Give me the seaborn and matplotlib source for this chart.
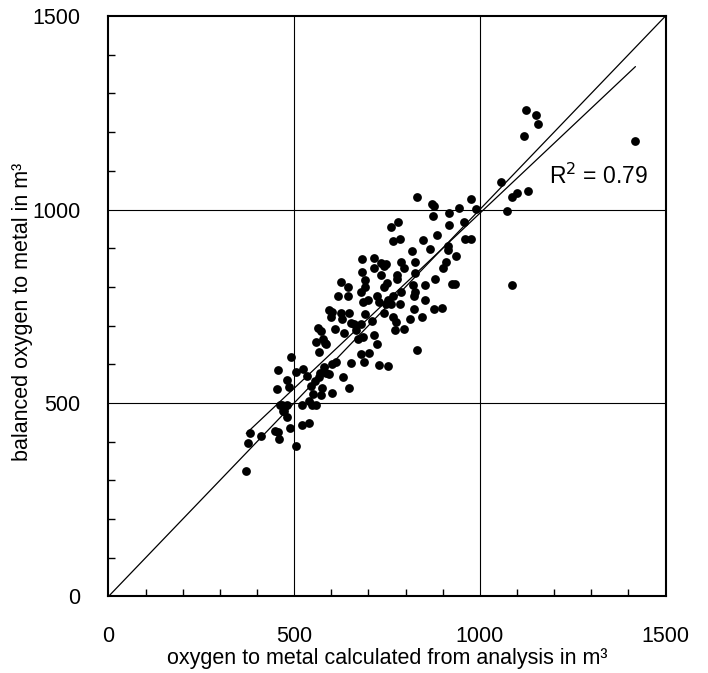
import numpy as np
import pandas as pd
import matplotlib
matplotlib.use("Agg")
import matplotlib.pyplot as plt
from matplotlib.ticker import MultipleLocator
import seaborn as sns

# oxygen to metal calculated from analysis (m³)
calc = [371, 375, 380, 412, 449, 457, 459, 489, 506, 521, 540, 453, 456, 491,
        467, 473, 463, 470, 480, 480, 486, 480, 506, 524, 521, 534, 541, 548,
        558, 546, 550, 555, 568, 576, 573, 570, 580, 586, 594, 603, 603, 613,
        631, 649, 654, 558, 564, 573, 568, 582, 578, 586, 594, 600, 603, 609,
        618, 625, 645, 645, 627, 630, 633, 649, 653, 662, 667, 671, 680, 686,
        692, 698, 680, 683, 683, 692, 692, 686, 680, 688, 701, 710, 716, 722,
        729, 752, 716, 716, 722, 729, 735, 735, 741, 748, 741, 749, 741, 748,
        754, 761, 765, 765, 771, 773, 777, 777, 765, 762, 779, 785, 787, 789,
        785, 797, 797, 816, 819, 823, 825, 825, 826, 831, 813, 822, 831, 843,
        847, 852, 852, 866, 870, 874, 876, 877, 880, 886, 898, 902, 908, 913,
        914, 916, 918, 926, 932, 935, 944, 957, 959, 977, 977, 989, 1056, 1072,
        1087, 1086, 1101, 1129, 1120, 1123, 1151, 1156, 1419]

# balanced oxygen to metal (m³)
balanced = [325, 397, 422, 414, 427, 424, 407, 435, 388, 442, 448, 536, 585, 619,
            495, 480, 494, 479, 464, 560, 541, 496, 579, 588, 494, 571, 506, 494,
            494, 544, 524, 557, 566, 538, 521, 577, 594, 577, 574, 525, 602, 605,
            568, 538, 604, 658, 693, 685, 632, 655, 666, 652, 741, 721, 734, 690,
            777, 812, 800, 777, 732, 716, 682, 732, 708, 705, 688, 666, 705, 671,
            729, 765, 788, 871, 838, 819, 799, 760, 627, 605, 630, 712, 675, 652,
            597, 596, 874, 849, 777, 760, 861, 832, 853, 859, 799, 810, 732, 755,
            766, 755, 777, 721, 688, 710, 821, 832, 918, 956, 967, 923, 865, 788,
            757, 848, 690, 893, 804, 777, 865, 788, 837, 638, 716, 743, 1032, 723,
            921, 804, 765, 899, 1013, 984, 1009, 743, 821, 934, 745, 849, 865, 906,
            895, 960, 990, 807, 808, 880, 1005, 968, 924, 924, 1026, 1001, 1071, 995,
            1032, 804, 1043, 1047, 1189, 1257, 1245, 1220, 1178]

r2_label = "R$^2$ = 0.79"
ticks = [0, 500, 1000, 1500]

df = pd.DataFrame({"calc": calc, "balanced": balanced})

sns.set_style("white")
plt.rcParams["font.family"] = ["Liberation Sans", "DejaVu Sans"]
plt.rcParams["text.color"] = "black"
plt.rcParams["axes.labelcolor"] = "black"
plt.rcParams["xtick.color"] = "black"
plt.rcParams["ytick.color"] = "black"

fig = plt.figure(figsize=(7.08, 6.73), dpi=100)
ax = fig.add_axes([0.1532, 0.1137, 0.7868, 0.8625])

# gridlines only at the major ticks
for t in ticks[1:-1]:
    ax.axvline(t, color="black", lw=0.8, zorder=1)
    ax.axhline(t, color="black", lw=0.8, zorder=1)

# 1:1 line
ax.plot([0, 1500], [0, 1500], color="black", lw=0.9, zorder=2)

# linear trendline over the data range
slope, intercept = np.polyfit(df["calc"], df["balanced"], 1)
xs = np.array([df["calc"].min(), df["calc"].max()])
ax.plot(xs, intercept + slope * xs, color="black", lw=0.9, zorder=2)

sns.scatterplot(data=df, x="calc", y="balanced", ax=ax, color="black",
                s=40, edgecolor="black", linewidth=0, zorder=3)

ax.text(1185, 1085, r2_label, fontsize=16.5, va="center")

ax.set_xlim(0, 1500)
ax.set_ylim(0, 1500)
ax.set_xticks(ticks)
ax.set_yticks(ticks)
ax.xaxis.set_minor_locator(MultipleLocator(100))
ax.yaxis.set_minor_locator(MultipleLocator(100))
ax.tick_params(which="both", direction="in", bottom=True, left=True,
               top=False, right=False, width=1)
ax.tick_params(which="major", length=0, labelsize=15.5)
ax.tick_params(axis="x", which="major", pad=21)
ax.tick_params(axis="y", which="major", pad=20)
ax.tick_params(which="minor", length=5)
for sp in ax.spines.values():
    sp.set_color("black")
    sp.set_linewidth(1.5)

ax.set_xlabel("oxygen to metal calculated from analysis in m³", fontsize=15.5, labelpad=1)
ax.set_ylabel("balanced oxygen to metal in m³", fontsize=15.5)
ax.yaxis.set_label_coords(-0.136, 0.49)

fig.savefig("out.png", dpi=100)
